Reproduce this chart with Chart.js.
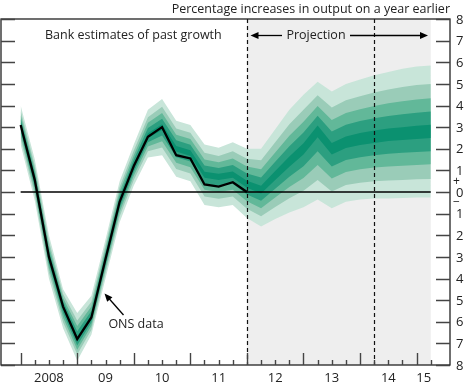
<!DOCTYPE html>
<html>
<head>
<meta charset="utf-8">
<script src="https://cdn.jsdelivr.net/npm/chart.js@4.4.1/dist/chart.umd.min.js"></script>
<style>
  body { margin: 0; background: #fff; }
  canvas { display: block; }
</style>
</head>
<body>
<canvas id="fanChart" width="465" height="390"></canvas>
<script>
// quarters plotted, 2008 Q1 .. 2015 Q2
const quarters = [
  '2008 Q1', '2008 Q2', '2008 Q3', '2008 Q4',
  '2009 Q1', '2009 Q2', '2009 Q3', '2009 Q4',
  '2010 Q1', '2010 Q2', '2010 Q3', '2010 Q4',
  '2011 Q1', '2011 Q2', '2011 Q3', '2011 Q4',
  '2012 Q1', '2012 Q2', '2012 Q3', '2012 Q4',
  '2013 Q1', '2013 Q2', '2013 Q3', '2013 Q4',
  '2014 Q1', '2014 Q2', '2014 Q3', '2014 Q4',
  '2015 Q1', '2015 Q2'
];
const yearLabels = ['2008', '09', '10', '11', '12', '13', '14', '15'];
const yTicks = [8, 7, 6, 5, 4, 3, 2, 1, 0, -1, -2, -3, -4, -5, -6, -7, -8];

// ONS data, % change on a year earlier (up to 2012 Q1)
const onsData = [3.1, 0.55, -3.0, -5.3, -6.8, -5.8, -3.1, -0.45, 1.2, 2.55, 3.0, 1.7, 1.55, 0.35, 0.25, 0.45, 0.0];

// fan edges, darkest (central) band first
const band10Hi = [3.19, 0.65, -2.9, -5.22, -6.68, -5.7, -3.01, -0.36, 1.3, 2.72, 3.13, 2.13, 1.93, 0.94, 0.84, 0.95, 0.52, 0.29, 0.97, 1.64, 2.25, 3.08, 2.27, 2.57, 2.73, 2.84, 2.94, 3.0, 3.06, 3.11];
const band10Lo = [3.01, 0.46, -3.1, -5.4, -6.9, -5.88, -3.19, -0.55, 1.11, 2.5, 2.87, 1.87, 1.67, 0.66, 0.56, 0.66, 0.2, -0.07, 0.55, 1.17, 1.73, 2.53, 1.73, 2.03, 2.17, 2.27, 2.36, 2.4, 2.45, 2.5];
const band30Hi = [3.37, 0.84, -2.7, -5.06, -6.44, -5.5, -2.83, -0.17, 1.5, 2.96, 3.39, 2.39, 2.19, 1.22, 1.11, 1.25, 0.85, 0.67, 1.4, 2.12, 2.75, 3.53, 2.8, 3.11, 3.28, 3.41, 3.52, 3.6, 3.67, 3.72];
const band30Lo = [2.83, 0.27, -3.3, -5.6, -7.1, -6.04, -3.37, -0.74, 0.93, 2.3, 2.61, 1.61, 1.41, 0.38, 0.28, 0.38, -0.12, -0.41, 0.15, 0.7, 1.19, 1.89, 1.18, 1.48, 1.61, 1.7, 1.77, 1.81, 1.85, 1.89];
const band50Hi = [3.55, 1.03, -2.5, -4.9, -6.2, -5.3, -2.65, 0.03, 1.7, 3.2, 3.65, 2.65, 2.45, 1.5, 1.38, 1.55, 1.18, 1.05, 1.83, 2.6, 3.25, 3.98, 3.33, 3.65, 3.83, 3.98, 4.1, 4.2, 4.28, 4.33];
const band50Lo = [2.65, 0.08, -3.5, -5.8, -7.3, -6.2, -3.55, -0.93, 0.75, 2.1, 2.35, 1.35, 1.15, 0.1, 0.0, 0.1, -0.43, -0.75, -0.25, 0.23, 0.65, 1.25, 0.63, 0.93, 1.05, 1.13, 1.18, 1.21, 1.25, 1.28];
const band70Hi = [3.75, 1.23, -2.28, -4.72, -5.94, -5.08, -2.45, 0.23, 1.92, 3.46, 3.94, 2.94, 2.74, 1.81, 1.67, 1.88, 1.54, 1.47, 2.3, 3.13, 3.8, 4.47, 3.91, 4.24, 4.43, 4.6, 4.74, 4.86, 4.95, 5.0];
const band70Lo = [2.45, -0.13, -3.72, -6.02, -7.52, -6.38, -3.75, -1.13, 0.55, 1.88, 2.06, 1.06, 0.86, -0.21, -0.31, -0.21, -0.77, -1.12, -0.69, -0.29, 0.06, 0.55, 0.02, 0.32, 0.43, 0.5, 0.53, 0.55, 0.59, 0.6];
const band90Hi = [4.0, 1.5, -2.0, -4.5, -5.6, -4.8, -2.2, 0.5, 2.2, 3.8, 4.3, 3.3, 3.1, 2.2, 2.05, 2.3, 2.0, 2.0, 2.9, 3.8, 4.5, 5.1, 4.65, 5.0, 5.2, 5.4, 5.55, 5.7, 5.8, 5.85];
const band90Lo = [2.2, -0.4, -4.0, -6.3, -7.8, -6.6, -4.0, -1.4, 0.3, 1.6, 1.7, 0.7, 0.5, -0.6, -0.7, -0.6, -1.2, -1.6, -1.25, -0.95, -0.7, -0.35, -0.75, -0.45, -0.35, -0.3, -0.3, -0.28, -0.25, -0.25];

const projectionStart = 16;   // 2012 Q1
const twoYearMark = 25;       // 2014 Q2

const bandColors = ['#0b9170', '#2c9f80', '#62b899', '#9accb8', '#c8e5d9'];
const bands = [
  [band10Hi, band10Lo],
  [band30Hi, band30Lo],
  [band50Hi, band50Lo],
  [band70Hi, band70Lo],
  [band90Hi, band90Lo]
];

const FONT = "'Open Sans', sans-serif";
const TEXT = '#222';

const pts = arr => arr.map((v, i) => ({ x: i, y: v }));

const datasets = [
  { data: pts(onsData), borderColor: '#000', borderWidth: 2.3, pointRadius: 0 },
  { data: [{ x: 0, y: 0 }, { x: quarters.length - 1, y: 0 }], borderColor: '#000', borderWidth: 1.3, pointRadius: 0 }
];
bands.forEach(([hi, lo], k) => {
  const idx = datasets.length;
  datasets.push({
    data: pts(hi), fill: idx + 1, backgroundColor: bandColors[k],
    borderColor: 'rgba(0,0,0,0)', borderWidth: 0, pointRadius: 0
  });
  datasets.push({
    data: pts(lo), fill: false,
    borderColor: 'rgba(0,0,0,0)', borderWidth: 0, pointRadius: 0
  });
});

function arrow(ctx, x1, y1, x2, y2) {
  const a = Math.atan2(y2 - y1, x2 - x1), len = 8, w = 3.5;
  ctx.beginPath();
  ctx.moveTo(x1, y1);
  ctx.lineTo(x2 - Math.cos(a) * len * 0.8, y2 - Math.sin(a) * len * 0.8);
  ctx.stroke();
  ctx.beginPath();
  ctx.moveTo(x2, y2);
  ctx.lineTo(x2 - Math.cos(a) * len + Math.sin(a) * w, y2 - Math.sin(a) * len - Math.cos(a) * w);
  ctx.lineTo(x2 - Math.cos(a) * len - Math.sin(a) * w, y2 - Math.sin(a) * len + Math.cos(a) * w);
  ctx.closePath();
  ctx.fill();
}

const fanChrome = {
  id: 'fanChrome',
  beforeDatasetsDraw(chart) {
    const { ctx, chartArea: a, scales: { x } } = chart;
    const x0 = x.getPixelForValue(projectionStart);
    const x1 = x.getPixelForValue(quarters.length - 1);
    ctx.save();
    ctx.fillStyle = '#eeeeee';
    ctx.fillRect(x0, a.top, x1 - x0, a.bottom - a.top);
    ctx.restore();
  },
  afterDatasetsDraw(chart) {
    const { ctx, chartArea: a, scales: { x, y } } = chart;
    ctx.save();
    // dashed verticals
    ctx.strokeStyle = '#111';
    ctx.lineWidth = 1.2;
    ctx.setLineDash([4, 3]);
    [projectionStart, twoYearMark].forEach(q => {
      const px = Math.round(x.getPixelForValue(q)) + 0.5;
      ctx.beginPath();
      ctx.moveTo(px, a.top);
      ctx.lineTo(px, a.bottom);
      ctx.stroke();
    });
    ctx.setLineDash([]);

    // frame
    ctx.strokeStyle = '#222';
    ctx.lineWidth = 1.3;
    ctx.strokeRect(a.left, a.top, a.right - a.left, a.bottom - a.top);

    // y ticks (inside, both sides)
    ctx.strokeStyle = '#444';
    ctx.lineWidth = 1.6;
    yTicks.forEach(v => {
      const py = Math.round(y.getPixelForValue(v)) + 0.5;
      ctx.beginPath();
      ctx.moveTo(a.left, py); ctx.lineTo(a.left + 14, py);
      ctx.moveTo(a.right - 14, py); ctx.lineTo(a.right, py);
      ctx.stroke();
    });

    // x ticks
    ctx.lineWidth = 1.4;
    quarters.forEach((q, i) => {
      const px = Math.round(x.getPixelForValue(i)) + 0.5;
      const len = i % 4 === 0 ? 12 : 5;
      ctx.beginPath();
      ctx.moveTo(px, a.bottom); ctx.lineTo(px, a.bottom - len);
      ctx.stroke();
    });

    // y labels on right
    ctx.fillStyle = TEXT;
    ctx.font = '13px ' + FONT;
    ctx.textAlign = 'left';
    ctx.textBaseline = 'middle';
    yTicks.forEach(v => {
      ctx.fillText(String(Math.abs(v)), a.right + 6, y.getPixelForValue(v) + 1);
    });
    const zy = y.getPixelForValue(0);
    ctx.font = '12px ' + FONT;
    ctx.fillText('+', a.right + 3, zy - 10);
    ctx.fillText('\u2212', a.right + 3, zy + 11);

    // year labels
    ctx.font = '13px ' + FONT;
    ctx.textAlign = 'center';
    yearLabels.forEach((lab, k) => {
      const s = k * 4;
      const e = Math.min(s + 4, quarters.length - 1);
      ctx.fillText(lab, x.getPixelForValue((s + e) / 2), a.bottom + 13);
    });

    // annotations
    ctx.font = '12.5px ' + FONT;
    ctx.textAlign = 'right';
    ctx.fillText('Percentage increases in output on a year earlier', 450, 9);
    ctx.textAlign = 'left';
    ctx.fillText('Bank estimates of past growth', 45, 35);
    ctx.textAlign = 'center';
    ctx.fillText('Projection', 316, 35);
    ctx.fillText('ONS data', 136, 324);

    ctx.strokeStyle = '#000';
    ctx.fillStyle = '#000';
    ctx.lineWidth = 1.3;
    arrow(ctx, 282, 35.5, 250.5, 35.5);
    arrow(ctx, 350, 35.5, 428, 35.5);
    arrow(ctx, 123.5, 315, 104.5, 293.5);
    ctx.restore();
  }
};

new Chart(document.getElementById('fanChart'), {
  type: 'line',
  data: { datasets },
  options: {
    responsive: false,
    animation: false,
    devicePixelRatio: 1,
    layout: { padding: { left: 1, right: 15, top: 19, bottom: 25 } },
    elements: { line: { tension: 0 } },
    scales: {
      x: { type: 'linear', min: -1.39, max: 30.36, display: false },
      y: { min: -8, max: 8, display: false }
    },
    plugins: { legend: { display: false }, tooltip: { enabled: false } }
  },
  plugins: [fanChrome]
});
</script>
</body>
</html>
